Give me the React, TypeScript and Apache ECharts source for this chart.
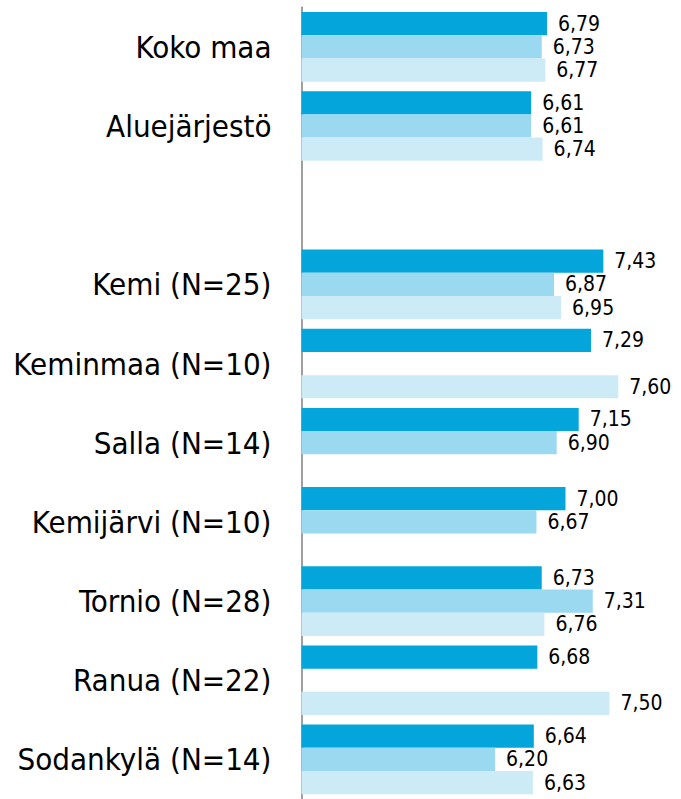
import React, { useEffect, useRef } from "react";
import * as echarts from "echarts";

const categories = [
  "Koko maa",
  "Aluejärjestö",
  "",
  "Kemi (N=25)",
  "Keminmaa (N=10)",
  "Salla (N=14)",
  "Kemijärvi (N=10)",
  "Tornio (N=28)",
  "Ranua (N=22)",
  "Sodankylä (N=14)",
];

const series1 = [6.79, 6.61, null, 7.43, 7.29, 7.15, 7.0, 6.73, 6.68, 6.64];
const series2 = [6.73, 6.61, null, 6.87, null, 6.9, 6.67, 7.31, null, 6.2];
const series3 = [6.77, 6.74, null, 6.95, 7.6, null, null, 6.76, 7.5, 6.63];

const colors = ["#03A5DB", "#9BD9F1", "#CDEBF6"];
const FONT = "'DejaVu Sans Condensed', 'DejaVu Sans', sans-serif";

export default function App() {
  const ref = useRef<HTMLDivElement>(null);
  useEffect(() => {
    if (!ref.current) return;
    const chart = echarts.init(ref.current, null, { renderer: "svg" });
    const mk = (data: (number | null)[], i: number) => ({
      type: "bar",
      data,
      barGap: "0%",
      barCategoryGap: "12%",
      itemStyle: { color: colors[i] },
      label: {
        show: true,
        position: "right",
        distance: 11,
        fontFamily: FONT,
        fontSize: 21,
        color: "#000",
        formatter: (p: any) => (p.value == null ? "" : Number(p.value).toFixed(2).replace(".", ",")),
      },
    });
    chart.setOption({
      animation: false,
      grid: { left: 301.5, top: 7.25, width: 352, height: 795, containLabel: false },
      xAxis: {
        type: "value",
        min: 4,
        max: 8,
        show: false,
      },
      yAxis: {
        type: "category",
        data: categories,
        inverse: true,
        axisLine: { show: true, lineStyle: { color: "#808080", width: 1.5 } },
        axisTick: { show: false },
        axisLabel: {
          margin: 30,
          fontFamily: FONT,
          fontSize: 31,
          color: "#000",
        },
      },
      series: [mk(series1, 0), mk(series2, 1), mk(series3, 2)],
    });
    return () => chart.dispose();
  }, []);
  return (
    <div
      ref={ref}
      style={{ position: "absolute", left: 0, top: 0, width: 681, height: 799, background: "#fff" }}
    />
  );
}
